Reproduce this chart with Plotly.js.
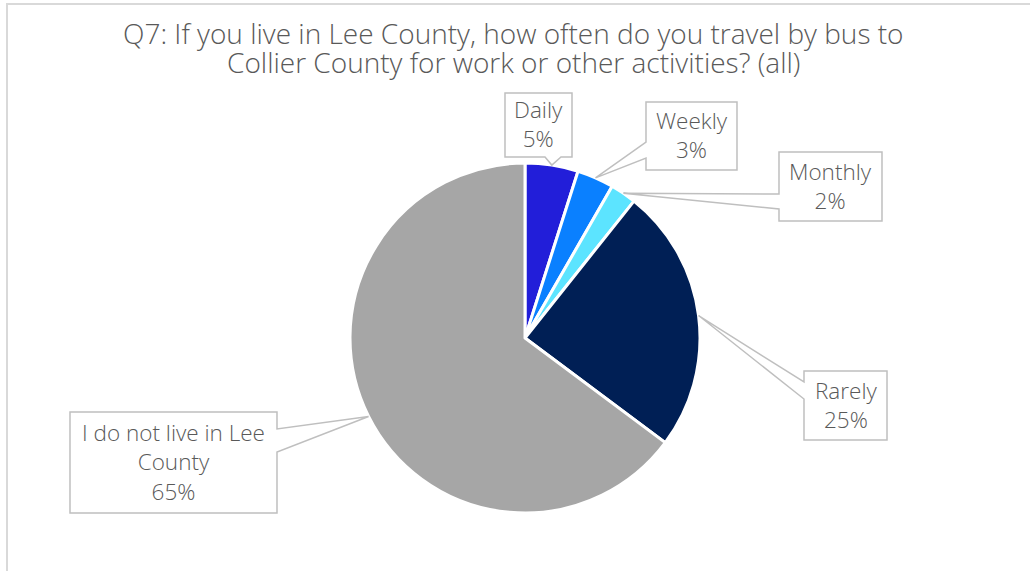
<!DOCTYPE html>
<html>
<head>
<meta charset="utf-8">
<script src="https://cdn.plot.ly/plotly-3.0.1.min.js"></script>
<style>html,body{margin:0;padding:0;background:#fff;}#chart{width:1030px;height:571px;}</style>
</head>
<body>
<div id="chart"></div>
<script>
// ---- data ----
const categories = ["Daily", "Weekly", "Monthly", "Rarely", "I do not live in Lee<br>County"];
const shares = [4.9, 3.4, 2.4, 24.5, 64.8];
const colors = ["#221ed9", "#0a80ff", "#5ce4ff", "#001f55", "#a6a6a6"];
const titleLines = ["Q7: If you live in Lee County, how often do you travel by bus to",
                    "Collier County for work or other activities? (all)"];

// ---- layout helpers (pixels -> paper) ----
const W = 1030, H = 571;
const px = x => x / W;
const py = y => 1 - y / H;
const cx = 525, cy = 338, R = 175;
const FONT = "Open Sans, Noto Sans, sans-serif";

// callout boxes (layout only): [x0, y0, x1, y1, side, a, b]
const boxes = [
  [505, 93, 572, 157, "bottom", 545, 561],
  [646, 102, 737, 170, "left", 142, 158],
  [779, 152, 882, 221, "left", 194, 209],
  [804, 371, 887, 440, "left", 382, 399],
  [70, 412, 277, 513, "right", 429, 452]
];

const total = shares.reduce((s, v) => s + v, 0);
let cum = 0;
const shapes = [];
const annotations = [];
const P = (x, y) => px(x).toFixed(5) + "," + py(y).toFixed(5);

shares.forEach((v, i) => {
  const mid = (cum + v / 2) / total;
  cum += v;
  const ang = mid * 2 * Math.PI;
  const tx = cx + R * Math.sin(ang), ty = cy - R * Math.cos(ang);
  const [x0, y0, x1, y1, side, a, b] = boxes[i];
  let d;
  if (side === "bottom") {
    d = "M" + P(x0, y0) + " L" + P(x1, y0) + " L" + P(x1, y1) + " L" + P(b, y1) +
        " L" + P(tx, ty) + " L" + P(a, y1) + " L" + P(x0, y1) + " Z";
  } else if (side === "left") {
    d = "M" + P(x0, y0) + " L" + P(x1, y0) + " L" + P(x1, y1) + " L" + P(x0, y1) +
        " L" + P(x0, b) + " L" + P(tx, ty) + " L" + P(x0, a) + " Z";
  } else {
    d = "M" + P(x0, y0) + " L" + P(x1, y0) + " L" + P(x1, a) + " L" + P(tx, ty) +
        " L" + P(x1, b) + " L" + P(x1, y1) + " L" + P(x0, y1) + " Z";
  }
  shapes.push({type: "path", xref: "paper", yref: "paper", path: d,
    fillcolor: "#ffffff", line: {color: "#bfbfbf", width: 1.5}, layer: "above"});
  annotations.push({xref: "paper", yref: "paper", x: px((x0 + x1) / 2), y: py((y0 + y1) / 2 - 1),
    xanchor: "center", yanchor: "middle", showarrow: false,
    text: categories[i] + "<br>" + Math.round(v / total * 100) + "%",
    font: {family: FONT, size: 22.5, weight: 300, color: "#595959"}});
});

// title, one annotation per line
titleLines.forEach((t, k) => {
  annotations.push({xref: "paper", yref: "paper", x: px(513), y: py(54 + 29 * k),
    xanchor: "center", yanchor: "bottom", showarrow: false, text: t,
    font: {family: FONT, size: 28, weight: 300, color: "#595959"}});
});

// chart frame
shapes.unshift({type: "rect", xref: "paper", yref: "paper",
  x0: px(7), x1: px(W + 10), y0: py(H + 10), y1: py(4),
  line: {color: "#d9d9d9", width: 2}, fillcolor: "rgba(0,0,0,0)", layer: "below"});

const trace = {
  type: "pie",
  labels: categories,
  values: shares,
  sort: false,
  direction: "clockwise",
  rotation: 0,
  marker: {colors: colors, line: {color: "#ffffff", width: 3}},
  textinfo: "none",
  hoverinfo: "label+percent",
  showlegend: false,
  domain: {x: [px(cx - R), px(cx + R)], y: [py(cy + R), py(cy - R)]}
};

const layout = {
  width: W, height: H,
  margin: {l: 0, r: 0, t: 0, b: 0},
  paper_bgcolor: "#ffffff",
  shapes: shapes,
  annotations: annotations,
  showlegend: false
};

Plotly.newPlot("chart", [trace], layout, {displayModeBar: false, staticPlot: true});
</script>
</body>
</html>
